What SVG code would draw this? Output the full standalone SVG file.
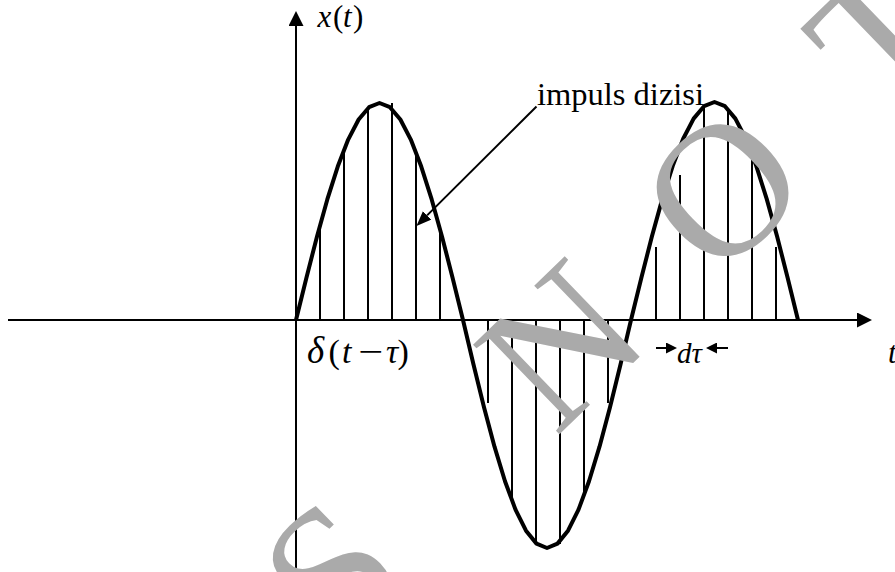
<svg xmlns="http://www.w3.org/2000/svg" width="895" height="572" viewBox="0 0 895 572">
<style>
.ax{stroke:#000;stroke-width:2;fill:none}
.imp{stroke:#000;stroke-width:2}
.curve{stroke:#000;stroke-width:4;fill:none;stroke-linejoin:round}
.conn{stroke:#000;stroke-width:2;fill:none}
.lbl{font-family:"Liberation Serif","Times New Roman",serif;fill:#000}
.it{font-style:italic}
.wm{font-family:"Liberation Serif","Times New Roman",serif;font-size:190px;fill:#aaaaaa}
</style>
<defs>
<marker id="axHead" viewBox="0 0 15 15" refX="0" refY="7.5" markerWidth="15" markerHeight="15" markerUnits="userSpaceOnUse" orient="auto"><path d="M0,0 L15,7.5 L0,15 Z" fill="#000"/></marker>
<marker id="lblHead" viewBox="0 0 15 12" refX="0" refY="6" markerWidth="15" markerHeight="12" markerUnits="userSpaceOnUse" orient="auto"><path d="M0,0 L15,6 L0,12 Z" fill="#000"/></marker>
<marker id="dHead" viewBox="0 0 11 11" refX="0" refY="5.5" markerWidth="11" markerHeight="11" markerUnits="userSpaceOnUse" orient="auto"><path d="M0,0 L11,5.5 L0,11 Z" fill="#000"/></marker>
</defs>
<rect x="0" y="0" width="895" height="572" fill="#fff"/>
<g id="axes">
<line class="ax" x1="8" y1="320" x2="857" y2="320" marker-end="url(#axHead)"/>
<line class="ax" x1="296" y1="572" x2="296" y2="26" marker-end="url(#axHead)"/>
</g>
<g id="impulses">
<line class="imp" x1="320" y1="320" x2="320" y2="228"/>
<line class="imp" x1="344" y1="320" x2="344" y2="152"/>
<line class="imp" x1="368" y1="320" x2="368" y2="110"/>
<line class="imp" x1="392" y1="320" x2="392" y2="103"/>
<line class="imp" x1="416" y1="320" x2="416" y2="154"/>
<line class="imp" x1="440" y1="320" x2="440" y2="230"/>
<line class="imp" x1="488" y1="320" x2="488" y2="403"/>
<line class="imp" x1="512" y1="320" x2="512" y2="498"/>
<line class="imp" x1="536" y1="320" x2="536" y2="544"/>
<line class="imp" x1="560" y1="320" x2="560" y2="544"/>
<line class="imp" x1="584" y1="320" x2="584" y2="494"/>
<line class="imp" x1="608" y1="320" x2="608" y2="403"/>
<line class="imp" x1="656" y1="320" x2="656" y2="247"/>
<line class="imp" x1="680" y1="320" x2="680" y2="175"/>
<line class="imp" x1="704" y1="320" x2="704" y2="108"/>
<line class="imp" x1="728" y1="320" x2="728" y2="111"/>
<line class="imp" x1="752" y1="320" x2="752" y2="158"/>
<line class="imp" x1="776" y1="320" x2="776" y2="247"/>
</g>
<g id="signal">
<path class="curve" d="M296,320 L306.44,277.67 L316.88,236.96 L327.31,199.44 L337.75,166.56 L348.19,139.57 L358.63,119.52 L369.06,107.17 L379.5,103 L389.94,107.17 L400.38,119.52 L410.81,139.57 L421.25,166.56 L431.69,199.44 L442.13,236.96 L452.56,277.67 L463,320 L473.5,364.48 L484,407.25 L494.5,446.67 L505,481.22 L515.5,509.58 L526,530.64 L536.5,543.62 L547,548 L557.5,543.62 L568,530.64 L578.5,509.58 L589,481.22 L599.5,446.67 L610,407.25 L620.5,364.48 L631,320 L641.44,277.47 L651.88,236.58 L662.31,198.89 L672.75,165.85 L683.19,138.74 L693.63,118.59 L704.06,106.19 L714.5,102 L724.94,106.19 L735.38,118.59 L745.81,138.74 L756.25,165.85 L766.69,198.89 L777.13,236.58 L787.56,277.47 L798,320"/>
</g>
<g id="connectors">
<line class="conn" x1="536.5" y1="106.5" x2="427.1" y2="215.4" marker-end="url(#lblHead)"/>
<line class="conn" x1="656" y1="348" x2="666" y2="348" marker-end="url(#dHead)"/>
<line class="conn" x1="728" y1="348" x2="717" y2="348" marker-end="url(#dHead)"/>
</g>
<g id="label-xt">
<text class="lbl" y="27" font-size="31"><tspan class="it" x="317.5">x</tspan><tspan x="333">(</tspan><tspan class="it" x="343">t</tspan><tspan x="353">)</tspan></text>
</g>
<g id="label-impuls">
<text class="lbl" x="537" y="105" font-size="32.5">impuls dizisi</text>
</g>
<g id="label-delta">
<text class="lbl" y="363" font-size="34"><tspan class="it" x="307" font-size="37">δ</tspan><tspan x="328.5">(</tspan><tspan class="it" x="342">t</tspan></text>
<text class="lbl" font-size="34" transform="translate(358,363) scale(1.3,1)">−</text>
<text class="lbl" y="363" font-size="34"><tspan class="it" x="386">τ</tspan><tspan x="397.5">)</tspan></text>
</g>
<g id="label-dtau">
<text class="lbl it" x="677" y="363" font-size="29">dτ</text>
</g>
<g id="label-t">
<text class="lbl it" x="888" y="363" font-size="31">t</text>
</g>
<g id="watermark">
<text class="wm" transform="translate(567,427) rotate(-44)" y="0"><tspan x="-323" y="4">S</tspan><tspan x="-16" y="0">N</tspan><tspan x="208">O</tspan><tspan x="441">T</tspan></text>
</g>
</svg>
